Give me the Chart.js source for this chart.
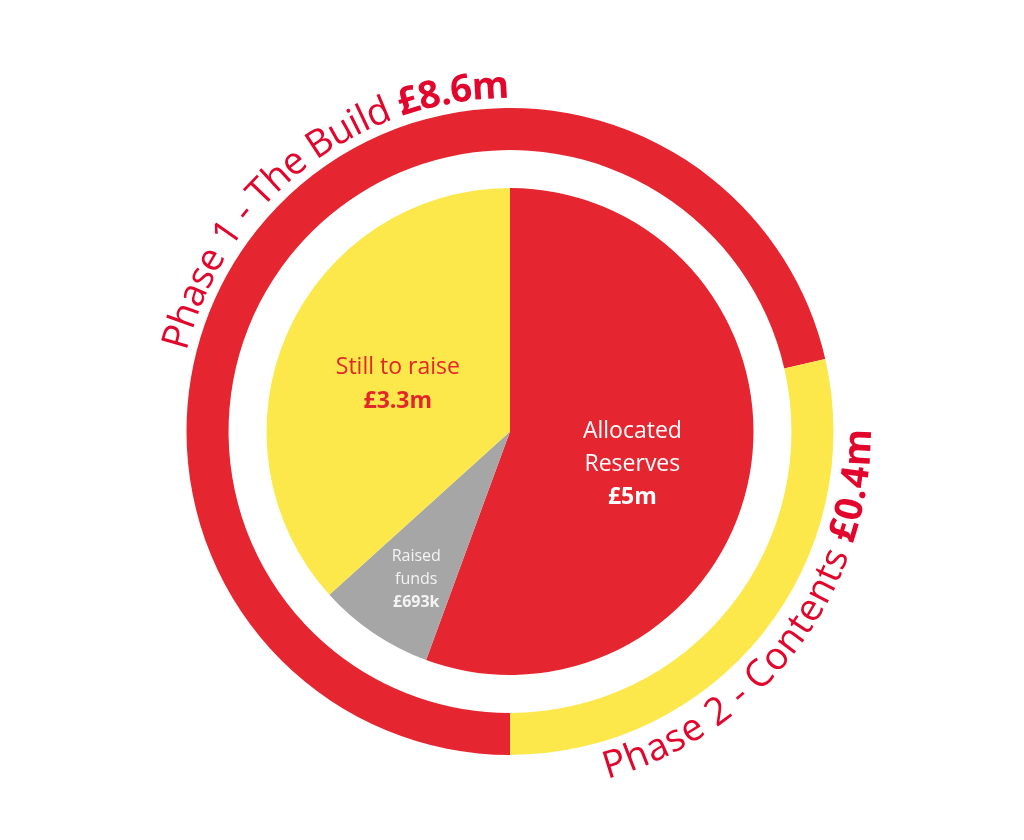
<!DOCTYPE html>
<html>
<head>
<meta charset="utf-8">
<title>Funding</title>
<script src="https://cdn.jsdelivr.net/npm/chart.js@4.4.1/dist/chart.umd.min.js"></script>
<style>
  html, body { margin: 0; padding: 0; background: #fff; }
  #wrap { position: relative; width: 1024px; height: 840px; }
  #wrap canvas { position: absolute; left: 0; top: 0; }
</style>
</head>
<body>
<div id="wrap">
  <canvas id="ring-chart" width="1024" height="840"></canvas>
  <canvas id="fund-chart" width="1024" height="840"></canvas>
</div>
<script>
// inner pie: how phase 1 is funded
const fundCategories = ['Allocated Reserves', 'Raised funds', 'Still to raise'];
const fundValues = [5.0, 0.693, 3.3]; // £m
const fundValueLabels = ['£5m', '£693k', '£3.3m'];
const fundLabelLines = [['Allocated', 'Reserves'], ['Raised', 'funds'], ['Still to raise']];

// outer ring: the two phases (share of the ring as drawn)
const phaseNames = ['Phase 1 - The Build', 'Phase 2 - Contents'];
const phaseTotals = ['£8.6m', '£0.4m'];
const phaseRingShare = [71.4, 28.6];

const RED = '#e52630';
const YELLOW = '#fde84b';
const GREY = '#a6a6a6';
const TEXT_RED = '#e2062c';

const CX = 510, CY = 431.5;
const R_RING = 323.5, R_PIE = 243.5;

function paddingFor(r) {
    return { left: CX - r, right: 1024 - CX - r, top: CY - r, bottom: 840 - CY - r };
}

// label placement inside each slice: radius fraction and angle nudge (deg)
const labelPlace = [
    { radius: 0.52, shift: 4.8, size: 23, gap: 33, color: '#ffffff' },
    { radius: 0.72, shift: -1.7, size: 16, gap: 23, color: '#f4f4f4' },
    { radius: 0.50, shift: -1.1, size: 23, gap: 34, color: '#e3262b' }
];

const sliceLabels = {
    id: 'sliceLabels',
    afterDatasetsDraw(chart) {
        const ctx = chart.ctx;
        const meta = chart.getDatasetMeta(0);
        meta.data.forEach(function (arc, i) {
            const p = labelPlace[i];
            const props = arc.getProps(['x', 'y', 'startAngle', 'endAngle', 'outerRadius'], true);
            const mid = (props.startAngle + props.endAngle) / 2 + p.shift * Math.PI / 180;
            const r = props.outerRadius * p.radius;
            const lx = props.x + Math.cos(mid) * r;
            const ly = props.y + Math.sin(mid) * r;

            const lines = fundLabelLines[i].slice();
            lines.push(fundValueLabels[i]);
            const top = ly - (lines.length - 1) * p.gap / 2;

            ctx.save();
            ctx.textAlign = 'center';
            ctx.textBaseline = 'middle';
            ctx.fillStyle = p.color;
            lines.forEach(function (line, j) {
                const bold = j === lines.length - 1;
                ctx.font = (bold ? '700 ' : '400 ') + p.size + 'px "Open Sans"';
                ctx.fillText(line, lx, top + j * p.gap);
            });
            ctx.restore();
        });
    }
};

function drawCurvedText(ctx, cx, cy, parts, radius, centerDeg, outward, size) {
    const chars = [];
    let total = 0;
    parts.forEach(function (part) {
        ctx.font = part.font;
        for (const ch of part.text) {
            const w = ctx.measureText(ch).width;
            chars.push({ ch: ch, font: part.font, w: w });
            total += w;
        }
    });
    const dir = outward ? 1 : -1;
    let a = centerDeg * Math.PI / 180 - dir * total / 2 / radius;
    const half = size * 0.36;

    ctx.save();
    ctx.fillStyle = TEXT_RED;
    ctx.textAlign = 'center';
    ctx.textBaseline = 'alphabetic';
    chars.forEach(function (c) {
        const theta = a + dir * c.w / 2 / radius;
        ctx.save();
        ctx.translate(cx, cy);
        ctx.font = c.font;
        if (outward) {
            ctx.rotate(theta);
            ctx.translate(0, -(radius - half));
        } else {
            ctx.rotate(theta - Math.PI);
            ctx.translate(0, radius + half);
        }
        ctx.fillText(c.ch, 0, 0);
        ctx.restore();
        a += dir * c.w / radius;
    });
    ctx.restore();
}

const ringText = {
    id: 'ringText',
    afterDraw(chart) {
        const arc = chart.getDatasetMeta(0).data[0];
        const props = arc.getProps(['x', 'y', 'outerRadius'], true);
        const size = 38;
        const radius = props.outerRadius + 23.5;
        const reg = '400 ' + size + 'px "Open Sans"';
        const bold = '700 ' + size + 'px "Open Sans"';
        drawCurvedText(chart.ctx, props.x, props.y,
            [{ text: phaseNames[0] + ' ', font: reg }, { text: phaseTotals[0], font: bold }],
            radius, 321.9, true, size);
        drawCurvedText(chart.ctx, props.x, props.y,
            [{ text: phaseNames[1] + ' ', font: reg }, { text: phaseTotals[1], font: bold }],
            radius, 127, false, size);
    }
};

const baseOptions = {
    responsive: false,
    animation: false,
    events: [],
    plugins: { legend: { display: false }, tooltip: { enabled: false } }
};

new Chart(document.getElementById('ring-chart'), {
    type: 'doughnut',
    data: {
        labels: phaseNames,
        datasets: [{
            data: phaseRingShare,
            backgroundColor: [RED, YELLOW],
            borderWidth: 0
        }]
    },
    options: Object.assign({}, baseOptions, {
        rotation: 180,
        cutout: '87%',
        layout: { padding: paddingFor(R_RING) }
    }),
    plugins: [ringText]
});

new Chart(document.getElementById('fund-chart'), {
    type: 'pie',
    data: {
        labels: fundCategories,
        datasets: [{
            data: fundValues,
            backgroundColor: [RED, GREY, YELLOW],
            borderWidth: 0
        }]
    },
    options: Object.assign({}, baseOptions, {
        layout: { padding: paddingFor(R_PIE) }
    }),
    plugins: [sliceLabels]
});
</script>
</body>
</html>
